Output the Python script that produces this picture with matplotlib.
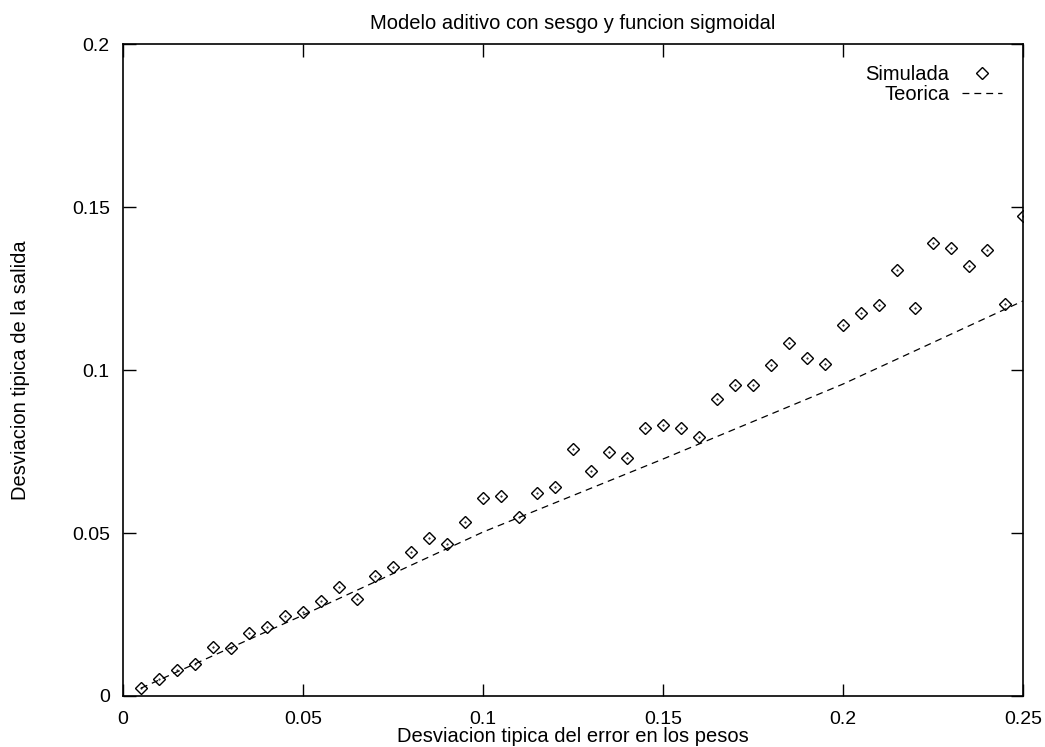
import numpy as np
import matplotlib.pyplot as plt

plt.rcParams['font.family'] = ['Liberation Sans', 'DejaVu Sans']

# datos simulados
x_sim = np.arange(1, 51) * 0.005
y_sim = [0.0025, 0.0052, 0.0080, 0.0098, 0.0150, 0.0147, 0.0193, 0.0212, 0.0245, 0.0258,
         0.0290, 0.0334, 0.0298, 0.0368, 0.0396, 0.0442, 0.0485, 0.0466, 0.0534, 0.0607,
         0.0613, 0.0549, 0.0623, 0.0641, 0.0758, 0.0690, 0.0748, 0.0730, 0.0822, 0.0831,
         0.0822, 0.0794, 0.0911, 0.0954, 0.0954, 0.1015, 0.1083, 0.1037, 0.1018, 0.1138,
         0.1175, 0.1199, 0.1307, 0.1190, 0.1390, 0.1374, 0.1319, 0.1368, 0.1202, 0.1472]

# curva teorica
x_teo = [0.005, 0.05, 0.1, 0.15, 0.2, 0.25]
y_teo = [0.0024, 0.0248, 0.0503, 0.0727, 0.0957, 0.1212]

fig = plt.figure(figsize=(10.45, 7.47), dpi=100)
ax = fig.add_axes([0.1177, 0.0683, 0.8613, 0.8727])

ax.plot(x_sim, y_sim, linestyle='none', marker='D', markersize=6, markerfacecolor='none',
        markeredgecolor='black', markeredgewidth=1.0, label='Simulada')
ax.plot(x_sim, y_sim, linestyle='none', marker='.', markersize=1, color='black')
ax.plot(x_teo, y_teo, color='black', linestyle=(0, (5.5, 4)), linewidth=0.9, label='Teorica')

ax.set_xlim(0, 0.25)
ax.set_ylim(0, 0.2)
ax.set_xticks([0, 0.05, 0.1, 0.15, 0.2, 0.25])
ax.set_xticklabels(['0', '0.05', '0.1', '0.15', '0.2', '0.25'])
ax.set_yticks([0, 0.05, 0.1, 0.15, 0.2])
ax.set_yticklabels(['0', '0.05', '0.1', '0.15', '0.2'])
ax.tick_params(direction='in', length=9, width=1, top=True, right=True, labelsize=14)
ax.tick_params(axis='x', pad=11)
ax.tick_params(axis='y', pad=9.5)
for s in ax.spines.values():
    s.set_linewidth(1.2)

ax.set_title('Modelo aditivo con sesgo y funcion sigmoidal', fontsize=14.5, pad=11)
ax.set_xlabel('Desviacion tipica del error en los pesos', fontsize=14.5, labelpad=-1)
ax.set_ylabel('Desviacion tipica de la salida', fontsize=14.5, labelpad=30)

ax.legend(loc='upper right', frameon=False, markerfirst=False, fontsize=14.5,
          handlelength=2.0, handletextpad=0.6, labelspacing=0.05, borderaxespad=0.65)

fig.savefig('out.png', dpi=100)
